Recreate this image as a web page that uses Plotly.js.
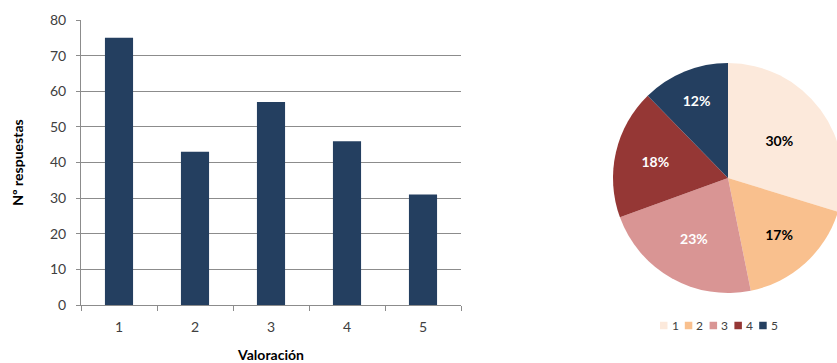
<!DOCTYPE html>
<html>
<head>
<meta charset="utf-8">
<script src="https://cdn.plot.ly/plotly-3.0.1.min.js"></script>
<style>
  html, body { margin: 0; padding: 0; overflow: hidden; background: #fff; }
  #wrap { width: 837px; height: 363px; overflow: hidden; }
  #chart { width: 860px; height: 363px; }
</style>
</head>
<body>
<div id="wrap"><div id="chart"></div></div>
<script>
// Survey ratings and number of answers for each rating
const categories = ['1', '2', '3', '4', '5'];
const answers = [75, 43, 57, 46, 31];
const yTicks = [0, 10, 20, 30, 40, 50, 60, 70, 80];

const barColor = '#243F60';
const sliceColors = ['#FCE9DB', '#F9C08E', '#D99594', '#953735', '#243F60'];
const sliceTextColors = ['#000000', '#000000', '#ffffff', '#ffffff', '#ffffff'];

const W = 860, H = 363;
const font = 'Lato, "Open Sans", sans-serif';
const px = v => v / W;          // horizontal pixel -> paper fraction
const py = v => 1 - v / H;      // vertical pixel (from top) -> paper fraction

const bars = {
  type: 'bar',
  x: categories,
  y: answers,
  marker: { color: barColor },
  showlegend: false,
  hoverinfo: 'x+y'
};

const pie = {
  type: 'pie',
  labels: categories,
  values: answers,
  sort: false,
  direction: 'clockwise',
  rotation: 0,
  marker: { colors: sliceColors },
  textinfo: 'percent',
  texttemplate: '%{percent:.0%}',
  textposition: 'inside',
  insidetextorientation: 'horizontal',
  textfont: { family: font, size: 14, color: sliceTextColors, weight: 'bold' },
  domain: { x: [px(613), px(843)], y: [py(293), py(63)] },
  showlegend: false,
  hoverinfo: 'label+value+percent'
};

// Compact legend under the pie: a small swatch and label per category
const legendShapes = [];
const legendLabels = [];
const legendX0 = 660, legendStep = 24.8, legendY = 325.5, swatch = 7.5;
categories.forEach((c, i) => {
  const x0 = legendX0 + i * legendStep;
  legendShapes.push({
    type: 'rect', xref: 'paper', yref: 'paper',
    x0: px(x0), x1: px(x0 + swatch),
    y0: py(legendY + swatch / 2), y1: py(legendY - swatch / 2),
    fillcolor: sliceColors[i], line: { width: 0 }
  });
  legendLabels.push({
    xref: 'paper', yref: 'paper',
    x: px(x0 + swatch + 2), y: py(legendY),
    xanchor: 'left', yanchor: 'middle',
    text: c, showarrow: false,
    font: { family: font, size: 12, color: '#404040' }
  });
});

const layout = {
  width: W,
  height: H,
  margin: { l: 0, r: 0, t: 0, b: 0 },
  paper_bgcolor: '#ffffff',
  plot_bgcolor: '#ffffff',
  font: { family: font, size: 14, color: '#404040' },
  bargap: 0.63,
  showlegend: false,
  xaxis: {
    domain: [px(81), px(461)],
    type: 'category',
    showline: true,
    linecolor: '#8c8c8c',
    linewidth: 1,
    ticks: 'outside',
    tickson: 'boundaries',
    ticklen: 5,
    tickcolor: '#8c8c8c',
    ticklabelstandoff: 9,
    showgrid: false,
    tickfont: { size: 14, color: '#404040' },
    title: { text: 'Valoración', font: { size: 14, color: '#000000', weight: 'bold' }, standoff: 16 },
    automargin: false
  },
  yaxis: {
    domain: [py(305), py(20)],
    range: [0, 80],
    tickvals: yTicks,
    showline: true,
    linecolor: '#8c8c8c',
    linewidth: 1,
    ticks: 'outside',
    ticklen: 4,
    tickcolor: '#8c8c8c',
    ticklabelstandoff: 7,
    showgrid: true,
    gridcolor: '#8c8c8c',
    gridwidth: 1,
    zeroline: false,
    tickfont: { size: 14, color: '#404040' },
    title: { text: 'Nº respuestas', font: { size: 14, color: '#000000', weight: 'bold' }, standoff: 23 },
    automargin: false
  },
  shapes: legendShapes,
  annotations: legendLabels
};

Plotly.newPlot('chart', [bars, pie], layout, { displayModeBar: false, staticPlot: true });
</script>
</body>
</html>
